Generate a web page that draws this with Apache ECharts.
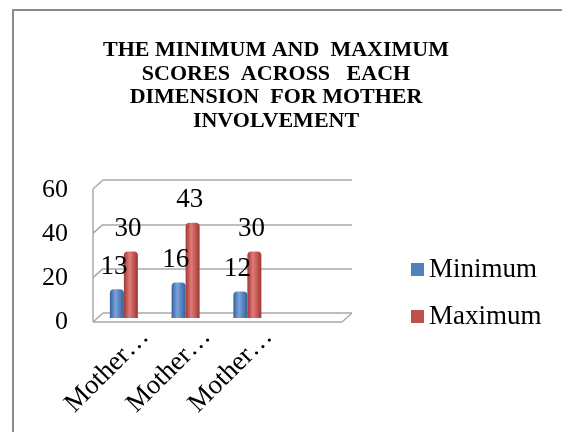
<!DOCTYPE html>
<html>
<head>
<meta charset="utf-8">
<script src="https://cdn.jsdelivr.net/npm/echarts@6/dist/echarts.min.js"></script>
<style>
  html, body { margin: 0; padding: 0; background: #fff; }
  #main { width: 562px; height: 432px; }
</style>
</head>
<body>
<div id="main"></div>
<script>
const categories = ['Mother…', 'Mother…', 'Mother…', ''];
const minimum = [13, 16, 12, null];
const maximum = [30, 43, 30, null];
const yMin = 0, yMax = 60, yStep = 20;

const FONT = '"Liberation Serif", "Times New Roman", serif';
const GRID_LINE = '#a9a9a9';
// 3d look: back wall grid is shifted up/right from the front plane
const DX = -10, DY = 9;

const chartDom = document.getElementById('main');
const myChart = echarts.init(chartDom);

function cyl(dark, light) {
    return new echarts.graphic.LinearGradient(0, 0, 1, 0, [
        {offset: 0, color: dark},
        {offset: 0.4, color: light},
        {offset: 1, color: dark}
    ]);
}

let option = {
    backgroundColor: '#fff',
    animation: false,
    title: {
        text: 'THE MINIMUM AND  MAXIMUM\nSCORES  ACROSS   EACH\nDIMENSION  FOR MOTHER\nINVOLVEMENT',
        left: 271,
        top: 34,
        textAlign: 'center',
        textStyle: {
            fontFamily: FONT,
            fontSize: 22,
            fontWeight: 'bold',
            lineHeight: 23.5,
            color: '#000'
        }
    },
    legend: {
        orient: 'vertical',
        left: 406,
        top: 251,
        itemWidth: 13,
        itemHeight: 13,
        itemGap: 20,
        icon: 'rect',
        textStyle: {fontFamily: FONT, fontSize: 27, lineHeight: 27, color: '#000'},
        data: [
            {name: 'Minimum', itemStyle: {color: '#4F81BD'}},
            {name: 'Maximum', itemStyle: {color: '#C0504D'}}
        ]
    },
    grid: [
        {left: 93, width: 247, top: 185, height: 133},  // bars
        {left: 103, width: 249, top: 180, height: 133}, // back wall
        {left: 114, width: 247, top: 190, height: 132}  // labels (front plane)
    ],
    xAxis: [
        {
            gridIndex: 0, type: 'category', data: categories,
            axisLine: {show: false}, axisTick: {show: false}, axisLabel: {show: false}
        },
        {gridIndex: 1, type: 'category', data: categories, show: false},
        {
            gridIndex: 2, type: 'category', data: categories,
            axisLine: {show: false}, axisTick: {show: false},
            axisLabel: {
                interval: 0, rotate: 45, margin: 11,
                fontFamily: FONT, fontSize: 27, color: '#000'
            }
        }
    ],
    yAxis: [
        {
            gridIndex: 0, type: 'value', min: yMin, max: yMax, interval: yStep,
            axisLine: {show: false}, axisTick: {show: false},
            axisLabel: {show: false}, splitLine: {show: false}
        },
        {
            gridIndex: 1, type: 'value', min: yMin, max: yMax, interval: yStep,
            axisLine: {show: false}, axisTick: {show: false}, axisLabel: {show: false},
            splitLine: {lineStyle: {color: GRID_LINE, width: 1.5}}
        },
        {
            gridIndex: 2, type: 'value', min: yMin, max: yMax, interval: yStep,
            axisLine: {show: false}, axisTick: {show: false}, splitLine: {show: false},
            axisLabel: {margin: 46, fontFamily: FONT, fontSize: 26, color: '#000'}
        }
    ],
    series: [
        {
            name: 'Minimum',
            type: 'bar',
            data: minimum,
            barWidth: 14,
            barGap: '0%',
            itemStyle: {color: cyl('#34619a', '#7aa3dc'), borderRadius: [4, 4, 0, 0]},
            label: {
                show: true, position: 'top', distance: 9, offset: [-3, 0],
                fontFamily: FONT, fontSize: 27, color: '#000'
            }
        },
        {
            name: 'Maximum',
            type: 'bar',
            data: maximum,
            barWidth: 14,
            barGap: '0%',
            itemStyle: {color: cyl('#9e3734', '#e27b78'), borderRadius: [4, 4, 0, 0]},
            label: {
                show: true, position: 'top', distance: 9, offset: [-3, 0],
                fontFamily: FONT, fontSize: 27, color: '#000'
            }
        }
    ]
};

option && myChart.setOption(option);

// frame of the 3d box, taken from the back wall axis
const backLeft = 103, backRight = 352;
const line = (x1, y1, x2, y2) => ({
    type: 'line', silent: true,
    shape: {x1: x1, y1: y1, x2: x2, y2: y2},
    style: {stroke: GRID_LINE, lineWidth: 1.5}
});
const yb = (v) => myChart.convertToPixel({yAxisIndex: 1}, v);
const frame = [];
for (let v = yMin; v <= yMax; v += yStep) {
    frame.push(line(backLeft + DX, yb(v) + DY, backLeft, yb(v)));
}
frame.push(line(backLeft + DX, yb(yMax) + DY, backLeft + DX, yb(yMin) + DY));
frame.push(line(backLeft + DX, yb(yMin) + DY, backRight + DX, yb(yMin) + DY));
frame.push(line(backRight + DX, yb(yMin) + DY, backRight, yb(yMin)));
frame.push({
    type: 'rect', silent: true, z: -1,
    shape: {x: 13, y: 10, width: 700, height: 600},
    style: {fill: 'none', stroke: '#8c8c8c', lineWidth: 2}
});
myChart.setOption({graphic: frame});
</script>
</body>
</html>
